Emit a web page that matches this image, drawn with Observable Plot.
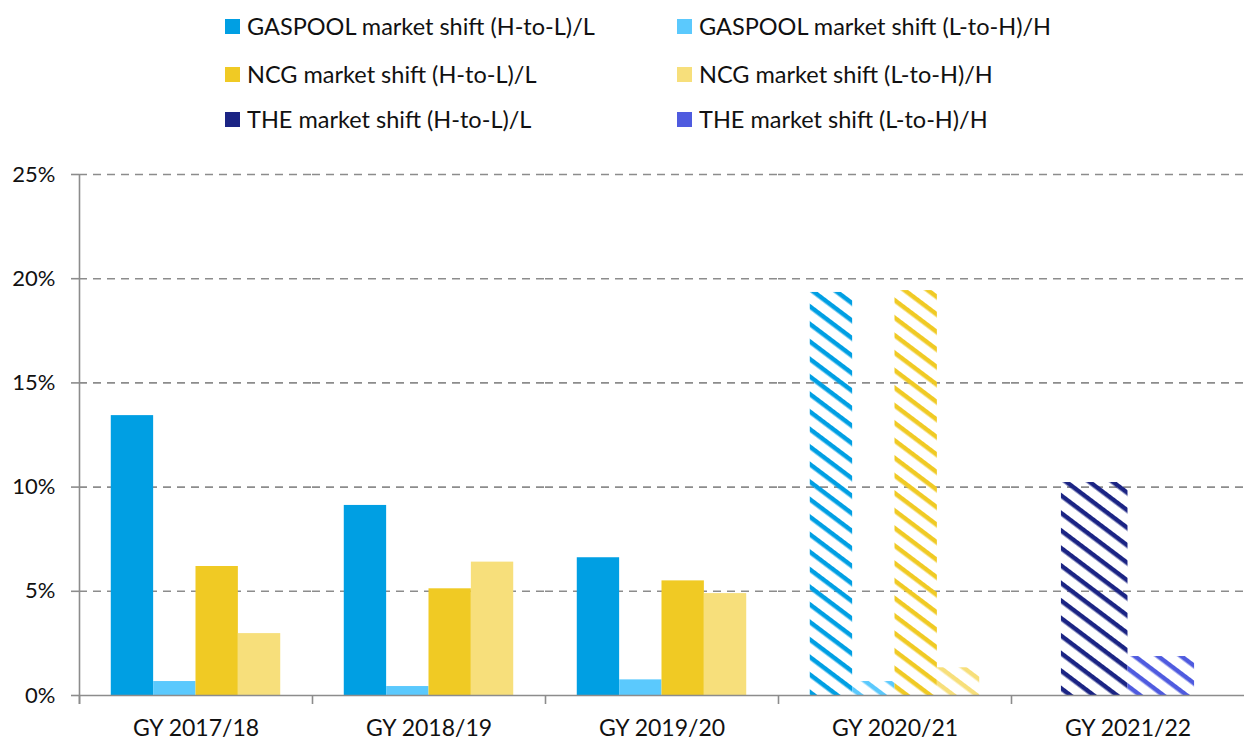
<!DOCTYPE html>
<html>
<head>
<meta charset="utf-8">
<script src="https://cdn.jsdelivr.net/npm/d3@7"></script>
<script src="https://cdn.jsdelivr.net/npm/@observablehq/plot@0.6"></script>
<style>
  html, body { margin: 0; padding: 0; background: #fff; }
  body { width: 1245px; font-family: Lato, "Open Sans", sans-serif; color: #111; }
  #legend { position: relative; height: 150px; }
  .item { position: absolute; display: flex; align-items: center; font-size: 23.5px; line-height: 1; white-space: nowrap; }
  .sw { width: 15px; height: 15px; margin-right: 7px; flex: none; }
  #chart svg { overflow: visible; }
</style>
</head>
<body>
<div id="legend"></div>
<div id="chart"></div>
<script>
// ---- data (values in %) ----
const years = ["GY 2017/18", "GY 2018/19", "GY 2019/20", "GY 2020/21", "GY 2021/22"];
const seriesNames = [
  "GASPOOL market shift (H-to-L)/L",
  "GASPOOL market shift (L-to-H)/H",
  "NCG market shift (H-to-L)/L",
  "NCG market shift (L-to-H)/H",
  "THE market shift (H-to-L)/L",
  "THE market shift (L-to-H)/H"
];
const gaspoolHL = [13.43, 9.12, 6.61, 19.34, null];
const gaspoolLH = [0.67, 0.43, 0.75, 0.67, null];
const ncgHL = [6.19, 5.12, 5.50, 19.43, null];
const ncgLH = [2.97, 6.40, 4.89, 1.33, null];
const theHL = [null, null, null, null, 10.22];
const theLH = [null, null, null, null, 1.87];
const hatchedYears = ["GY 2020/21", "GY 2021/22"];
const yTicks = [0, 5, 10, 15, 20, 25];

// ---- styles ----
const colors = ["#009fe3", "#5bc9fd", "#f0ca24", "#f7df7b", "#1b2484", "#4f5bdf"];
const seriesValues = [gaspoolHL, gaspoolLH, ncgHL, ncgLH, theHL, theLH];
const gapWidth = 1.5; // Excel-style gap width relative to one bar

// build table: bars within each year, positioned by slot (clustered layout)
const rows = [];
years.forEach((year, yi) => {
  const present = seriesValues
    .map((vals, si) => ({si, v: vals[yi]}))
    .filter(d => d.v != null);
  const n = present.length;
  present.forEach((d, i) => {
    rows.push({
      year,
      series: seriesNames[d.si],
      si: d.si,
      value: d.v,
      hatched: hatchedYears.includes(year),
      x1: (gapWidth / 2 + i) / (n + gapWidth),
      x2: (gapWidth / 2 + i + 1) / (n + gapWidth)
    });
  });
});

// ---- legend ----
const legend = document.getElementById("legend");
const legendPos = [
  [225, 19], [677, 19],
  [225, 67], [677, 67],
  [225, 112], [677, 112]
];
seriesNames.forEach((name, i) => {
  const it = document.createElement("div");
  it.className = "item";
  it.style.left = legendPos[i][0] + "px";
  it.style.top = (legendPos[i][1] - 3) + "px";
  it.style.height = "21px";
  const sw = document.createElement("span");
  sw.className = "sw";
  sw.style.background = colors[i];
  const tx = document.createElement("span");
  tx.textContent = name;
  it.appendChild(sw);
  it.appendChild(tx);
  legend.appendChild(it);
});

const gridColor = "#8c8c8c";

const chart = Plot.plot({
  width: 1245,
  height: 590,
  marginTop: 24,
  marginBottom: 45,
  marginLeft: 79,
  marginRight: 1,
  style: {fontFamily: "Lato, 'Open Sans', sans-serif", fontSize: "22px", color: "#111", background: "#fff", overflow: "visible"},
  fx: {domain: years, padding: 0, label: null},
  x: {domain: [0, 1], axis: null},
  y: {domain: [0, 25], axis: null},
  color: {type: "identity"},
  marks: [
    Plot.gridY(yTicks.filter(d => d > 0), {stroke: gridColor, strokeOpacity: 1, strokeWidth: 1.6, strokeDasharray: "8,6"}),
    Plot.rectY(rows, {
      fx: "year",
      x1: "x1",
      x2: "x2",
      y: "value",
      fill: d => d.hatched ? `url(#hatch${d.si})` : colors[d.si]
    }),
    Plot.ruleY([0], {stroke: gridColor, strokeWidth: 1.6}),
    // category boundary ticks
    Plot.ruleX(years, {fx: d => d, x: () => 0, y1: () => 0, y2: () => 0, insetTop: 9, stroke: gridColor, strokeWidth: 1.6}),
    // y axis line
    Plot.ruleX([years[0]], {fx: d => d, x: () => 0, y1: () => 0, y2: () => 25, insetTop: 9, stroke: gridColor, strokeWidth: 1.6}),
    Plot.axisY(yTicks, {
      tickSize: 8,
      tickPadding: 16,
      tickFormat: d => d + "%",
      stroke: gridColor,
      strokeWidth: 1.6,
      fill: "#111",
      fontSize: 22,
      label: null
    }),
    Plot.axisFx({anchor: "bottom", tickSize: 0, tickPadding: 24, fontSize: 23, fill: "#111", label: null})
  ]
});

// hatch patterns
const ns = "http://www.w3.org/2000/svg";
const defs = document.createElementNS(ns, "defs");
colors.forEach((c, i) => {
  const p = document.createElementNS(ns, "pattern");
  p.setAttribute("id", "hatch" + i);
  p.setAttribute("patternUnits", "userSpaceOnUse");
  p.setAttribute("width", "14");
  p.setAttribute("height", "14");
  p.setAttribute("patternTransform", "rotate(37)");
  const r = document.createElementNS(ns, "rect");
  r.setAttribute("x", "0");
  r.setAttribute("y", "0");
  r.setAttribute("width", "14");
  r.setAttribute("height", "4.5");
  r.setAttribute("fill", c);
  p.appendChild(r);
  defs.appendChild(p);
});
chart.insertBefore(defs, chart.firstChild);

document.getElementById("chart").appendChild(chart);
</script>
</body>
</html>
